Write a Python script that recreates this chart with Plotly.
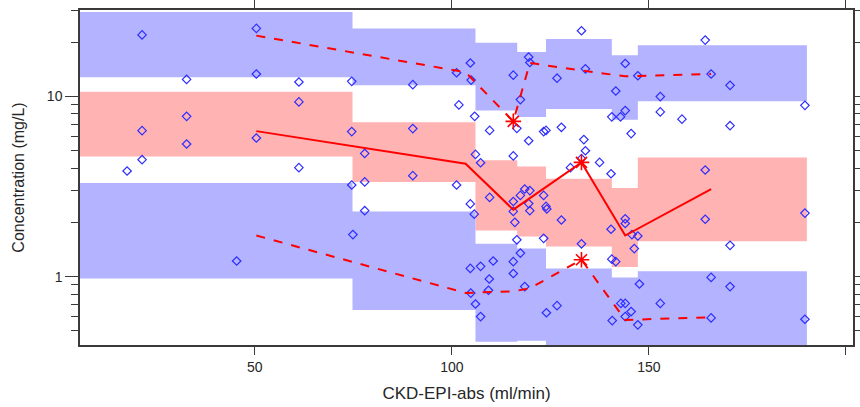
import math
import plotly.graph_objects as go

# ---------------- data ----------------
# bin boundaries on CKD-EPI-abs (ml/min)
bin_edges = [5.6, 74.8, 106.0, 116.6, 123.9, 140.6, 147.2, 190.1]

# simulated confidence intervals per bin (mg/L)
p95_ci_hi = [29.3, 23.8, 19.8, 17.6, 20.8, 16.9, 19.2]
p95_ci_lo = [12.75, 11.5, 8.33, 7.68, 8.49, 7.42, 9.38]
med_ci_hi = [10.6, 7.17, 4.42, 4.08, 3.49, 3.10, 4.58]
med_ci_lo = [4.64, 3.35, 1.80, 1.67, 1.47, 1.13, 1.57]
p05_ci_hi = [3.30, 2.30, 1.52, 1.43, 1.11, 0.99, 1.07]
p05_ci_lo = [0.975, 0.653, 0.435, 0.441, 0.40, 0.40, 0.40]

# observed percentiles per bin
bin_x = [50.4, 103.5, 115.6, 119.8, 132.9, 144.0, 165.8]
obs_p95 = [21.7, 13.6, 7.26, 15.3, 13.9, 12.9, 13.3]
obs_med = [6.41, 4.23, 2.35, 2.72, 4.30, 1.69, 3.06]
obs_p05 = [1.69, 0.812, 0.828, 0.862, 1.24, 0.575, 0.595]

# observed concentrations
obs_x = [21.4, 50.4, 32.7, 50.4, 61.2, 61.2, 32.7, 21.4, 32.7, 50.4, 21.4, 17.6, 61.2, 45.4,
         74.6, 90.1, 104.7, 101.2, 104.9, 101.8, 105.8, 109.6, 74.6, 90.1, 77.9, 106.0, 107.3,
         90.1, 74.6, 77.9, 101.2, 109.6, 104.7, 105.7, 77.9, 74.9, 104.7, 107.3, 110.5, 109.5,
         109.3, 104.8, 106.0, 107.3,
         132.9, 119.5, 119.8, 115.6, 126.7, 133.9, 144.0, 147.2, 141.6, 152.9, 117.4, 144.0,
         140.6, 142.8, 152.9, 116.5, 123.3, 123.9, 127.8, 119.5, 133.5, 145.5, 115.6, 133.9,
         132.9, 137.5, 140.4, 130.1,
         118.5, 119.8, 117.4, 123.3, 115.6, 119.5, 123.9, 124.1, 115.6, 119.8, 116.0, 127.8,
         144.0, 144.0, 140.4, 145.7, 147.2, 116.5, 123.3, 132.9, 146.3, 117.4, 115.6, 140.6,
         141.6, 115.6, 118.5, 147.6, 126.7, 124.0, 142.9, 144.0, 145.5, 144.0, 140.7, 147.2,
         152.9,
         164.3, 165.8, 170.6, 189.6, 158.4, 170.6, 164.3, 189.6, 164.3, 170.6, 165.8, 170.6,
         165.8, 189.6]
obs_y = [21.9, 23.8, 12.4, 13.3, 12.0, 9.31, 7.74, 6.45, 5.44, 5.87, 4.45, 3.85, 4.02, 1.22,
         12.1, 11.6, 15.3, 13.5, 12.3, 8.96, 7.74, 6.47, 6.37, 6.62, 4.82, 4.76, 4.28,
         3.63, 3.22, 3.35, 3.22, 2.75, 2.53, 2.22, 2.32, 1.71, 1.11, 1.14, 1.22, 0.97,
         0.84, 0.81, 0.705, 0.60,
         23.1, 16.5, 15.4, 13.1, 12.6, 14.2, 15.2, 13.0, 10.7, 9.96, 9.59, 8.33,
         7.69, 7.69, 8.19, 6.64, 6.37, 6.47, 6.73, 5.67, 5.75, 6.21, 4.67, 4.99,
         4.51, 4.30, 3.72, 4.02,
         3.06, 3.00, 2.82, 2.82, 2.61, 2.54, 2.45, 2.37, 2.30, 2.32, 2.00, 2.06,
         2.09, 1.97, 1.83, 1.71, 1.68, 1.60, 1.63, 1.52, 1.43, 1.35, 1.21, 1.25,
         1.21, 1.04, 0.88, 0.91, 0.69, 0.63, 0.71, 0.71, 0.64, 0.60, 0.57, 0.54,
         0.71,
         20.5, 13.3, 11.5, 8.91, 7.47, 6.87, 3.90, 2.25, 2.08, 1.49, 0.99, 0.88,
         0.59, 0.58]

x_ticks = [50, 100, 150, 200]
x_tick_text = ["50", "100", "150", ""]
y_major = [1, 10]
y_major_text = ["1", "10"]
y_minor = [0.5, 0.6, 0.7, 0.8, 0.9, 2, 3, 4, 5, 6, 7, 8, 9, 20, 30]

# ---------------- style ----------------
BLUE_BAND = "#B3B3FF"
RED_BAND = "#FFB3B3"
PT_COLOR = "rgb(45,45,255)"
LINE_RED = "#FF0000"
AX_COLOR = "#3a3a3a"
FONT = "Liberation Sans, Arial, sans-serif"


def step_band(edges, lo, hi):
    xs, ys = [], []
    for i in range(len(hi)):
        xs += [edges[i], edges[i + 1]]
        ys += [hi[i], hi[i]]
    for i in reversed(range(len(lo))):
        xs += [edges[i + 1], edges[i]]
        ys += [lo[i], lo[i]]
    xs.append(xs[0])
    ys.append(ys[0])
    return xs, ys


fig = go.Figure()

for lo, hi, col in [(p95_ci_lo, p95_ci_hi, BLUE_BAND),
                    (med_ci_lo, med_ci_hi, RED_BAND),
                    (p05_ci_lo, p05_ci_hi, BLUE_BAND)]:
    bx, by = step_band(bin_edges, lo, hi)
    fig.add_trace(go.Scatter(x=bx, y=by, mode="lines", fill="toself",
                             fillcolor=col, line=dict(width=0, color=col),
                             hoverinfo="skip", showlegend=False))

fig.add_trace(go.Scatter(x=obs_x, y=obs_y, mode="markers",
                         marker=dict(symbol="diamond-open", size=6.5,
                                     color=PT_COLOR, line=dict(width=1.2, color=PT_COLOR)),
                         showlegend=False))

fig.add_trace(go.Scatter(x=bin_x, y=obs_med, mode="lines",
                         line=dict(color=LINE_RED, width=2), showlegend=False))
for series in (obs_p95, obs_p05):
    fig.add_trace(go.Scatter(x=bin_x, y=series, mode="lines",
                             line=dict(color=LINE_RED, width=2, dash="9px,9px"),
                             showlegend=False))

# asterisks where an observed percentile falls outside its simulated CI
ast_x, ast_y = [], []
for obs, lo, hi in [(obs_p95, p95_ci_lo, p95_ci_hi),
                    (obs_med, med_ci_lo, med_ci_hi),
                    (obs_p05, p05_ci_lo, p05_ci_hi)]:
    for i, v in enumerate(obs):
        if v < lo[i] or v > hi[i]:
            ast_x.append(bin_x[i])
            ast_y.append(v)
fig.add_trace(go.Scatter(x=ast_x, y=ast_y, mode="markers",
                         marker=dict(symbol="asterisk-open", size=13,
                                     line=dict(width=1.6, color=LINE_RED), color=LINE_RED),
                         showlegend=False))

fig.update_layout(
    width=860, height=407,
    margin=dict(l=80, r=7, t=10, b=62, autoexpand=False),
    paper_bgcolor="white", plot_bgcolor="white",
    font=dict(family=FONT, color="#262626"),
    showlegend=False,
)
fig.update_xaxes(
    automargin=False,
    range=[5.65, 201.8], showgrid=False, zeroline=False,
    tickmode="array", tickvals=x_ticks, ticktext=x_tick_text,
    ticks="outside", ticklen=8, tickwidth=1.3, tickcolor=AX_COLOR,
    showline=True, linecolor=AX_COLOR, linewidth=1.5, mirror="ticks",
    tickfont=dict(size=14, color="#262626"),
    title=dict(text="CKD-EPI-abs (ml/min)", font=dict(size=17, color="#262626"), standoff=14),
)
fig.update_yaxes(
    automargin=False,
    type="log", range=[math.log10(0.4175), math.log10(30.1)],
    showgrid=False, zeroline=False,
    tickmode="array", tickvals=y_major, ticktext=y_major_text,
    ticks="outside", ticklen=13, tickwidth=1.3, tickcolor=AX_COLOR,
    minor=dict(tickmode="array", tickvals=y_minor, ticks="outside", ticklen=7,
               tickwidth=1.3, tickcolor=AX_COLOR, showgrid=False),
    showline=True, linecolor=AX_COLOR, linewidth=1.5, mirror="ticks",
    tickfont=dict(size=14, color="#262626"),
    title=dict(text="Concentration (mg/L)", font=dict(size=16, color="#262626"), standoff=18),
)

fig.write_html("out.html")
